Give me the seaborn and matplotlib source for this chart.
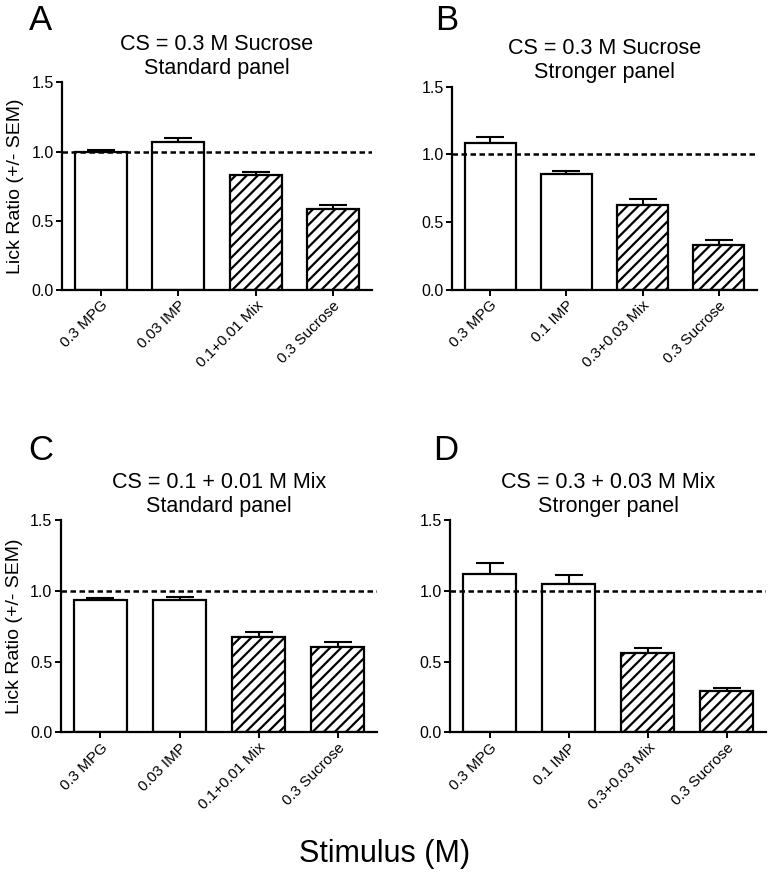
import matplotlib
matplotlib.use("Agg")
import matplotlib.pyplot as plt
import seaborn as sns
import pandas as pd
import numpy as np

# stimulus labels for each panel
labels_std = ["0.3 MPG", "0.03 IMP", "0.1+0.01 Mix", "0.3 Sucrose"]
labels_strong = ["0.3 MPG", "0.1 IMP", "0.3+0.03 Mix", "0.3 Sucrose"]

# lick ratios and SEM
mean_a = [1.00, 1.07, 0.83, 0.585]
sem_a = [0.012, 0.03, 0.025, 0.03]
mean_b = [1.087, 0.856, 0.627, 0.332]
sem_b = [0.045, 0.022, 0.047, 0.038]
mean_c = [0.933, 0.935, 0.678, 0.605]
sem_c = [0.015, 0.02, 0.03, 0.035]
mean_d = [1.122, 1.053, 0.56, 0.293]
sem_d = [0.073, 0.06, 0.04, 0.023]

titles = ["CS = 0.3 M Sucrose\nStandard panel",
          "CS = 0.3 M Sucrose\nStronger panel",
          "CS = 0.1 + 0.01 M Mix\nStandard panel",
          "CS = 0.3 + 0.03 M Mix\nStronger panel"]
letters = ["A", "B", "C", "D"]

sns.set_style("ticks")
plt.rcParams['font.family'] = ['Liberation Sans', 'DejaVu Sans']
plt.rcParams['hatch.linewidth'] = 1.6
for k in ["text.color", "axes.labelcolor", "xtick.color", "ytick.color", "axes.edgecolor"]:
    plt.rcParams[k] = "black"

fig = plt.figure(figsize=(7.7, 8.76), dpi=100)
boxes = [[0.0805, 0.669, 0.4025, 0.237],
         [0.587, 0.669, 0.396, 0.232],
         [0.079, 0.164, 0.411, 0.242],
         [0.585, 0.164, 0.41, 0.242]]
letter_pos = [(0.037, 0.995), (0.565, 0.995), (0.037, 0.504), (0.563, 0.504)]

panels = [(labels_std, mean_a, sem_a), (labels_strong, mean_b, sem_b),
          (labels_std, mean_c, sem_c), (labels_strong, mean_d, sem_d)]

for i, (labs, means, sems) in enumerate(panels):
    ax = fig.add_axes(boxes[i])
    df = pd.DataFrame({"stim": labs, "ratio": means})
    sns.barplot(data=df, x="stim", y="ratio", order=labs, color="white",
                edgecolor="black", linewidth=1.6, width=0.67,
                errorbar=None, ax=ax, zorder=2)
    for p in ax.patches[2:]:
        p.set_hatch("///")
    ax.errorbar(np.arange(len(labs)), means, yerr=[np.zeros(len(sems)), sems],
                fmt="none", ecolor="black", elinewidth=1.5, capsize=10,
                capthick=1.5, zorder=1)
    ax.axhline(1.0, color="black", lw=1.8, ls="--", dashes=(2.2, 1.4), zorder=3)
    ax.set_ylim(0, 1.5)
    ax.set_xlim(-0.5, 3.5)
    ax.set_yticks([0, 0.5, 1.0, 1.5])
    ax.set_yticklabels(["0.0", "0.5", "1.0", "1.5"])
    ax.set_xlabel("")
    if i % 2 == 0:
        ax.set_ylabel("Lick Ratio (+/- SEM)", fontsize=14, labelpad=5)
    else:
        ax.set_ylabel("")
    ax.tick_params(axis="y", labelsize=11.5, length=4, width=1.4, pad=2)
    ax.tick_params(axis="x", labelsize=11, length=4, width=1.4, pad=2)
    plt.setp(ax.get_xticklabels(), rotation=45, ha="right", rotation_mode="anchor")
    for s in ["left", "bottom"]:
        ax.spines[s].set_linewidth(1.6)
    sns.despine(ax=ax)
    ax.set_title(titles[i], fontsize=15.5, pad=6, linespacing=1.2)
    fig.text(letter_pos[i][0], letter_pos[i][1], letters[i], fontsize=25,
             va="top", ha="left")

fig.text(0.5, 0.025, "Stimulus (M)", fontsize=22, ha="center", va="center")

fig.savefig("out.png", dpi=100)
